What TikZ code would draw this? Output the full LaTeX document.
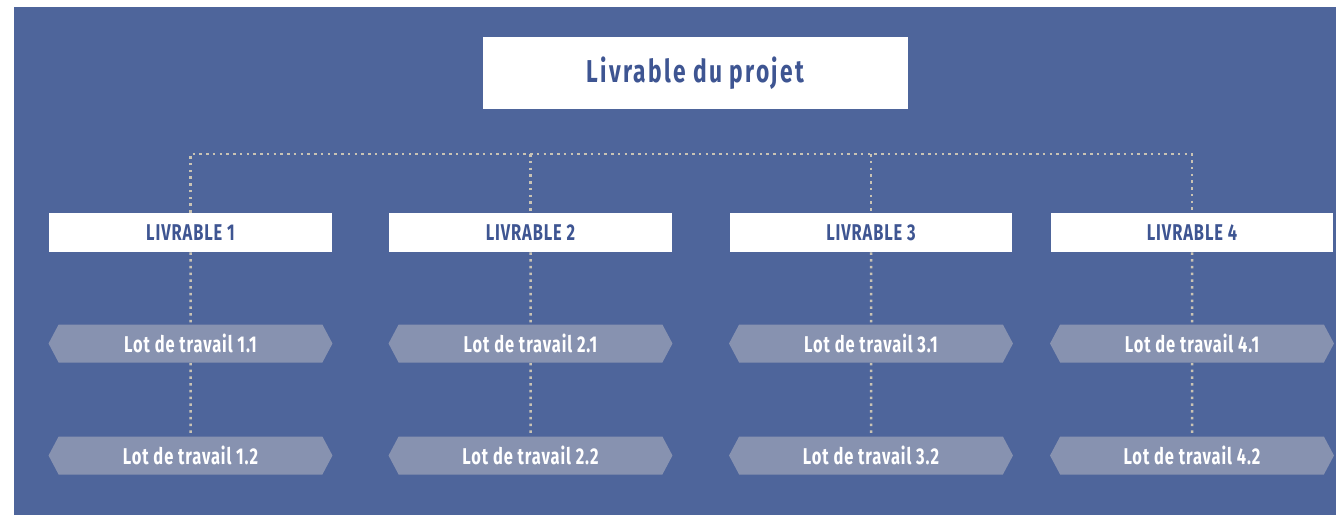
\documentclass[tikz,border=0pt]{standalone}
\usepackage{fontspec}
\newfontfamily\condfont[FakeStretch=0.72,LetterSpace=4]{Fira Sans}
\newfontfamily\titlefont[FakeStretch=0.72,LetterSpace=7]{Fira Sans}
\usetikzlibrary{shapes.symbols,backgrounds}
\definecolor{bgblue}{HTML}{4E659B}
\definecolor{txtblue}{HTML}{3E5592}
\definecolor{lotgrey}{HTML}{8792B0}
\definecolor{dotcol}{HTML}{C9C3B4}
\tikzset{
    livbox/.style={fill=white, minimum width=5.66cm, minimum height=0.78cm, inner sep=0pt,
        text=txtblue, font=\condfont\bfseries\fontsize{13}{15}\selectfont},
    lotbox/.style={signal, signal to=west and east, signal pointer angle=124, fill=lotgrey,
        minimum width=5.68cm, minimum height=0.76cm, inner sep=0pt,
        text=white, font=\condfont\bfseries\fontsize{13}{15}\selectfont},
    dotline/.style={draw=dotcol, line width=0.05cm, dash pattern=on 0.05cm off 0.085cm}
}
\begin{document}
\begin{tikzpicture}[x=0.02cm, y=-0.02cm]
\useasboundingbox (0,0) rectangle (1336,515);

\node[fill=white, minimum width=8.5cm, minimum height=1.44cm, inner sep=0pt,
    text=txtblue, font=\titlefont\bfseries\fontsize{18}{20}\selectfont] (top) at (695.5,73) {Livrable du projet};
\coordinate (bus) at (695.5,154);

\foreach \i/\x in {1/190.5,2/530.5,3/871,4/1192}
{
    \node[livbox] (l\i) at (\x,232.5) {LIVRABLE \i};
    \node[lotbox] (w\i1) at (\x,343.5) {Lot de travail \i.1};
    \node[lotbox] (w\i2) at (\x,455.5) {Lot de travail \i.2};
}

\begin{pgfonlayer}{background}
\fill[bgblue] (14,7) rectangle (1336,515);
\draw[dotline] (l1) -- (l1 |- bus) -- (l4 |- bus) -- (l4);
\foreach \i in {2,3}
{
    \draw[dotline] (l\i |- bus) -- (l\i);
}
\foreach \i in {1,2,3,4}
{
    \draw[dotline] (l\i) -- (w\i1) -- (w\i2);
}
\end{pgfonlayer}
\end{tikzpicture}
\end{document}
